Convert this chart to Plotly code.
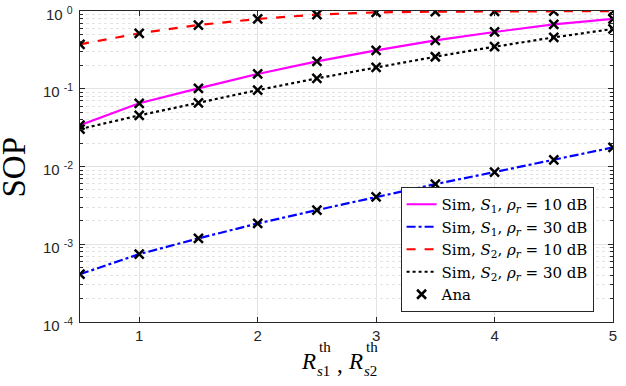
import plotly.graph_objects as go

# threshold rate
x = [0.5, 1, 1.5, 2, 2.5, 3, 3.5, 4, 4.5, 5]

# SOP values
s1_10db = [0.034, 0.065, 0.101, 0.155, 0.225, 0.312, 0.419, 0.537, 0.673, 0.79]
s1_30db = [4.12e-4, 7.46e-4, 1.19e-3, 1.85e-3, 2.75e-3, 4.07e-3, 5.93e-3, 8.48e-3, 1.22e-2, 1.76e-2]
s2_10db = [0.373, 0.516, 0.66, 0.79, 0.90, 0.96, 0.98, 0.99, 0.995, 0.998]
s2_30db = [0.0303, 0.0454, 0.066, 0.096, 0.136, 0.189, 0.258, 0.347, 0.458, 0.587]

ytick_exp = [-4, -3, -2, -1, 0]
ytick_vals = [10.0 ** e for e in ytick_exp]
# minor grid at 2..9 of each decade
yminor_vals = [m * 10.0 ** e for e in range(-4, 0) for m in range(2, 10)]

serif = "Liberation Serif"
sans = "Liberation Sans"
eq = "&nbsp;=&nbsp;"

fig = go.Figure()
fig.add_trace(go.Scatter(x=x, y=s1_10db, mode="lines", line=dict(color="#ff00ff", width=2.2),
                         name="Sim, <i>S</i><sub>1</sub>, <i>ρ<sub>r</sub></i>" + eq + "10 dB"))
fig.add_trace(go.Scatter(x=x, y=s1_30db, mode="lines", line=dict(color="#0000ff", width=2.2, dash="dashdot"),
                         name="Sim, <i>S</i><sub>1</sub>, <i>ρ<sub>r</sub></i>" + eq + "30 dB"))
fig.add_trace(go.Scatter(x=x, y=s2_10db, mode="lines", line=dict(color="#ff0000", width=2.2, dash="dash"),
                         name="Sim, <i>S</i><sub>2</sub>, <i>ρ<sub>r</sub></i>" + eq + "10 dB"))
fig.add_trace(go.Scatter(x=x, y=s2_30db, mode="lines", line=dict(color="#000000", width=2.2, dash="dot"),
                         name="Sim, <i>S</i><sub>2</sub>, <i>ρ<sub>r</sub></i>" + eq + "30 dB"))

# analytical markers on every curve
marker = dict(symbol="x-thin-open", size=9, color="black", line=dict(width=2.5, color="black"))
for i, ys in enumerate([s1_10db, s1_30db, s2_10db, s2_30db]):
    fig.add_trace(go.Scatter(x=x, y=ys, mode="markers", marker=marker, name="Ana",
                             showlegend=(i == 0)))

W, H = 626, 386
ML, MR, MT, MB = 80, 9, 11, 64
PW, PH = W - ML - MR, H - MT - MB


def px(xp):
    return (xp - ML) / PW


def py(yp):
    return 1 - (yp - MT) / PH


def note(text, xp, yp, size, xanchor="left", angle=0):
    fig.add_annotation(text=text, x=px(xp), y=py(yp), xref="paper", yref="paper",
                       xanchor=xanchor, yanchor="middle", showarrow=False, textangle=angle,
                       font=dict(family=serif, size=size, color="black"), borderpad=0)


# x label: R^th_s1, R^th_s2 with stacked super/subscripts
for x_r, sub in [(302, "1"), (349, "2")]:
    note("<i>R</i>", x_r, 361, 23)
    note("th", x_r + 18, 347, 15)
    note("<i>s</i>" + sub, x_r + 16, 371, 15)
note(",", 338, 364, 23)
# y label
note("SOP", 14, 167, 33, xanchor="center", angle=-90)

# y tick labels 10^e, placed on the log axis just left of the frame
for e in ytick_exp:
    fig.add_annotation(text="10&nbsp;<sup>%d</sup>" % e, x=px(74), y=e, xref="paper", yref="y",
                       xanchor="right", yanchor="middle", yshift=-2, showarrow=False,
                       font=dict(family=sans, size=15, color="#262626"), borderpad=0)

fig.update_layout(
    width=W, height=H,
    margin=dict(l=ML, r=MR, t=MT, b=MB),
    plot_bgcolor="white", paper_bgcolor="white",
    showlegend=True,
    legend=dict(x=px(403), y=py(312), xanchor="left", yanchor="bottom",
                bgcolor="white", bordercolor="#262626", borderwidth=1,
                font=dict(family="DejaVu Serif", size=15, color="black"),
                tracegroupgap=0, itemwidth=30),
)
fig.update_xaxes(
    range=[0.5, 5], tickvals=[1, 2, 3, 4, 5],
    showline=True, mirror="ticks", linecolor="#262626", linewidth=1,
    ticks="inside", ticklen=5, tickcolor="#262626",
    showgrid=True, gridcolor="#e3e3e3", gridwidth=1, zeroline=False,
    tickfont=dict(family=sans, size=15, color="#262626"),
)
fig.update_yaxes(
    type="log", range=[-4, 0], tickvals=ytick_vals, showticklabels=False,
    showline=True, mirror="ticks", linecolor="#262626", linewidth=1,
    ticks="inside", ticklen=5, tickcolor="#262626",
    showgrid=True, gridcolor="#e3e3e3", gridwidth=1, zeroline=False,
    minor=dict(tickmode="array", tickvals=yminor_vals, showgrid=True, gridcolor="#e3e3e3",
               griddash="dot", ticks="inside", ticklen=3, tickcolor="#262626"),
)

# drop the browser's default 8px body margin so the figure fills the window
fig.write_html("out.html", config={"displayModeBar": False},
               post_script="document.body.style.margin = '0';")
